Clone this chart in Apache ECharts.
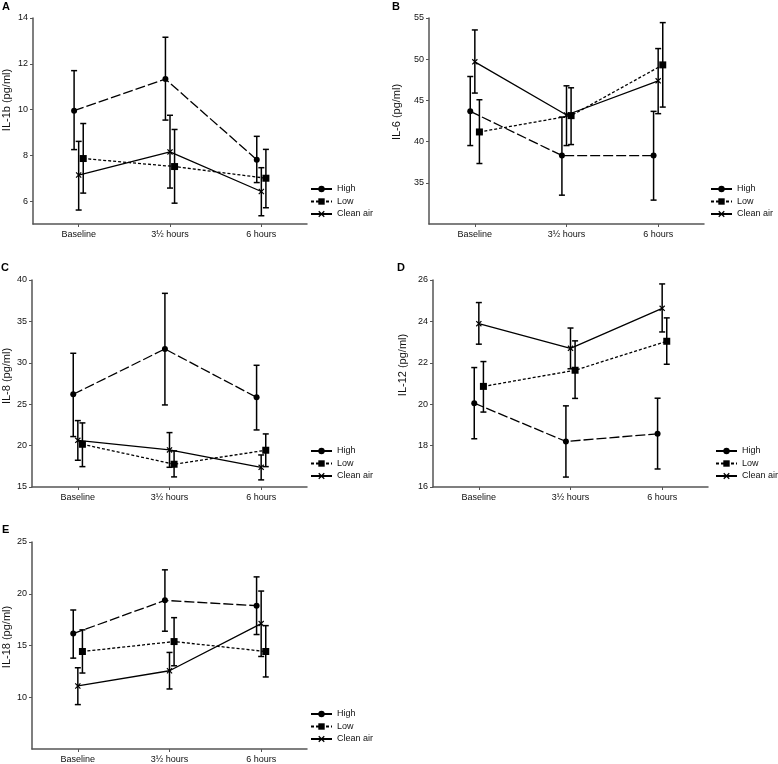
<!DOCTYPE html>
<html>
<head>
<meta charset="utf-8">
<script src="https://cdn.jsdelivr.net/npm/echarts@6/dist/echarts.min.js"></script>
<style>html,body{margin:0;padding:0;background:#fff}#c{width:778px;height:764px}</style>
</head>
<body>
<div id="c"></div>
<script>
// ---------- DATA ----------
const categories = ['Baseline', '3\u00bd hours', '6 hours'];
const groups = ['High', 'Low', 'Clean air'];

// Panel A: IL-1b
const A_ticks = [6, 8, 10, 12, 14];
const A_high = [9.95, 11.33, 7.81];  const A_high_lo = [8.25, 9.54, 6.81];  const A_high_hi = [11.70, 13.16, 8.83];
const A_low = [7.86, 7.51, 7.00];    const A_low_lo = [6.35, 5.91, 5.71];   const A_low_hi = [9.39, 9.13, 8.26];
const A_clean = [7.14, 8.15, 6.42];  const A_clean_lo = [5.61, 6.57, 5.36]; const A_clean_hi = [8.61, 9.75, 7.46];

// Panel B: IL-6
const B_ticks = [35, 40, 45, 50, 55];
const B_high = [43.67, 38.31, 38.31]; const B_high_lo = [39.52, 33.50, 32.90]; const B_high_hi = [47.90, 42.98, 43.67];
const B_low = [41.17, 43.15, 49.31];  const B_low_lo = [37.34, 39.64, 44.19];  const B_low_hi = [45.08, 46.53, 54.44];
const B_clean = [49.68, 43.23, 47.38]; const B_clean_lo = [45.89, 39.52, 43.39]; const B_clean_hi = [53.55, 46.77, 51.29];

// Panel C: IL-8
const C_ticks = [15, 20, 25, 30, 35, 40];
const C_high = [26.20, 31.67, 25.83]; const C_high_lo = [21.09, 24.91, 21.89]; const C_high_hi = [31.15, 38.39, 29.70];
const C_low = [20.16, 17.75, 19.44];  const C_low_lo = [17.46, 16.22, 17.46];  const C_low_hi = [22.74, 19.36, 21.41];
const C_clean = [20.64, 19.48, 17.38]; const C_clean_lo = [18.23, 17.38, 15.86]; const C_clean_hi = [23.02, 21.57, 18.87];

// Panel D: IL-12
const D_ticks = [16, 18, 20, 22, 24, 26];
const D_high = [20.05, 18.20, 18.57]; const D_high_lo = [18.33, 16.48, 16.87]; const D_high_hi = [21.77, 19.92, 20.29];
const D_low = [20.86, 21.64, 23.04];  const D_low_lo = [19.62, 20.28, 21.93];  const D_low_hi = [22.06, 23.06, 24.17];
const D_clean = [23.89, 22.70, 24.63]; const D_clean_lo = [22.90, 21.71, 23.49]; const D_clean_hi = [24.91, 23.68, 25.81];

// Panel E: IL-18
const E_ticks = [10, 15, 20, 25];
const E_high = [16.15, 19.36, 18.85]; const E_high_lo = [13.78, 16.38, 16.06]; const E_high_hi = [18.43, 22.31, 21.63];
const E_low = [14.42, 15.38, 14.42];  const E_low_lo = [12.34, 13.04, 11.96];  const E_low_hi = [16.51, 17.69, 16.92];
const E_clean = [11.09, 12.56, 17.12]; const E_clean_lo = [9.29, 10.80, 13.94]; const E_clean_hi = [12.85, 14.33, 20.26];

// ---------- LAYOUT / STYLE ----------
const FONT = '"Liberation Sans", Arial, sans-serif';
const panels = [
  { letter: 'A', yName: 'IL-1b (pg/ml)', ticks: A_ticks, min: 5, max: 14,
    grid: { left: 33, top: 18, width: 274, height: 206 },
    mean: [A_high, A_low, A_clean], lo: [A_high_lo, A_low_lo, A_clean_lo], hi: [A_high_hi, A_low_hi, A_clean_hi],
    legendPos: { left: 310, top: 184 }, letterPos: [2, 7], yNamePos: [7, 100] },
  { letter: 'B', yName: 'IL-6 (pg/ml)', ticks: B_ticks, min: 30, max: 55,
    grid: { left: 429, top: 18, width: 275, height: 206 },
    mean: [B_high, B_low, B_clean], lo: [B_high_lo, B_low_lo, B_clean_lo], hi: [B_high_hi, B_low_hi, B_clean_hi],
    legendPos: { left: 710, top: 184 }, letterPos: [392, 7], yNamePos: [397, 112] },
  { letter: 'C', yName: 'IL-8 (pg/ml)', ticks: C_ticks, min: 15, max: 40,
    grid: { left: 32, top: 280, width: 275, height: 207 },
    mean: [C_high, C_low, C_clean], lo: [C_high_lo, C_low_lo, C_clean_lo], hi: [C_high_hi, C_low_hi, C_clean_hi],
    legendPos: { left: 310, top: 446 }, letterPos: [1, 268], yNamePos: [7, 376] },
  { letter: 'D', yName: 'IL-12 (pg/ml)', ticks: D_ticks, min: 16, max: 26,
    grid: { left: 433, top: 280, width: 275, height: 207 },
    mean: [D_high, D_low, D_clean], lo: [D_high_lo, D_low_lo, D_clean_lo], hi: [D_high_hi, D_low_hi, D_clean_hi],
    legendPos: { left: 715, top: 446 }, letterPos: [397, 268], yNamePos: [403, 365] },
  { letter: 'E', yName: 'IL-18 (pg/ml)', ticks: E_ticks, min: 5, max: 25,
    grid: { left: 32, top: 542, width: 275, height: 208 },
    mean: [E_high, E_low, E_clean], lo: [E_high_lo, E_low_lo, E_clean_lo], hi: [E_high_hi, E_low_hi, E_clean_hi],
    legendPos: { left: 310, top: 709 }, letterPos: [2, 530], yNamePos: [7, 637] }
];

const CROSS = 'path://M0,1.4L1.4,0L5,3.6L8.6,0L10,1.4L6.4,5L10,8.6L8.6,10L5,6.4L1.4,10L0,8.6L3.6,5Z';
const groupStyle = [
  { symbol: 'circle', size: 6, dash: [10, 3], dodge: -0.05 },
  { symbol: 'rect', size: 7, dash: [3, 2], dodge: 0.05 },
  { symbol: CROSS, size: 6, dash: 'solid', dodge: 0 }
];

const grids = [], xAxes = [], yAxes = [], series = [], legends = [], graphics = [];
const axisLineStyle = { color: '#555', width: 1.5 };

panels.forEach((p, i) => {
  grids.push(Object.assign({ containLabel: false }, p.grid));
  xAxes.push({
    type: 'value', gridIndex: i, min: -0.5, max: 2.5,
    axisLine: { show: true, onZero: false, lineStyle: axisLineStyle },
    axisTick: { show: true, length: 3, customValues: [0, 1, 2], lineStyle: { color: '#555', width: 1 } },
    axisLabel: { customValues: [0, 1, 2], formatter: v => categories[Math.round(v)], fontSize: 9, color: '#111', fontFamily: FONT, margin: 6 },
    splitLine: { show: false }
  });
  yAxes.push({
    type: 'value', gridIndex: i, min: p.min, max: p.max,
    axisLine: { show: true, onZero: false, lineStyle: axisLineStyle },
    axisTick: { show: true, length: 3, customValues: p.ticks, lineStyle: { color: '#555', width: 1 } },
    axisLabel: { customValues: p.ticks, fontSize: 9, color: '#111', fontFamily: FONT, margin: 5 },
    splitLine: { show: false }
  });
  groups.forEach((g, k) => {
    const st = groupStyle[k];
    series.push({
      type: 'line', name: g, xAxisIndex: i, yAxisIndex: i,
      data: p.mean[k].map((v, j) => [j + st.dodge, v]),
      symbol: st.symbol, symbolSize: st.size, showSymbol: true,
      lineStyle: { color: '#000', width: 1.3, type: st.dash },
      itemStyle: { color: '#000' },
      z: 3, animation: false, silent: true
    });
    series.push({
      type: 'custom', xAxisIndex: i, yAxisIndex: i,
      data: p.mean[k].map((v, j) => [j + st.dodge, p.lo[k][j], p.hi[k][j]]),
      encode: { x: 0, y: [1, 2] },
      renderItem: (params, api) => {
        const x = api.value(0);
        const a = api.coord([x, api.value(1)]);
        const b = api.coord([x, api.value(2)]);
        const cap = 3;
        const style = { stroke: '#000', lineWidth: 1.5 };
        return {
          type: 'group', children: [
            { type: 'line', shape: { x1: a[0], y1: a[1], x2: b[0], y2: b[1] }, style },
            { type: 'line', shape: { x1: a[0] - cap, y1: a[1], x2: a[0] + cap, y2: a[1] }, style },
            { type: 'line', shape: { x1: b[0] - cap, y1: b[1], x2: b[0] + cap, y2: b[1] }, style }
          ]
        };
      },
      z: 2, animation: false, silent: true
    });
  });
  legends.push({
    data: groups, orient: 'vertical', left: p.legendPos.left, top: p.legendPos.top,
    itemWidth: 21, itemHeight: 8, itemGap: 2.5, padding: 0, selectedMode: false,
    textStyle: { fontSize: 9, color: '#111', fontFamily: FONT, lineHeight: 10 }
  });
  graphics.push({
    type: 'text', left: p.letterPos[0], top: p.letterPos[1] - 6,
    style: { text: p.letter, font: 'bold 11px ' + FONT, fill: '#000' }
  });
  graphics.push({
    type: 'text', x: p.yNamePos[0], y: p.yNamePos[1], rotation: Math.PI / 2,
    style: { text: p.yName, font: '11px ' + FONT, fill: '#111', align: 'center', verticalAlign: 'middle' }
  });
});

const chart = echarts.init(document.getElementById('c'), null, { renderer: 'canvas' });
chart.setOption({
  animation: false,
  backgroundColor: '#fff',
  grid: grids, xAxis: xAxes, yAxis: yAxes, series: series, legend: legends, graphic: graphics
});
</script>
</body>
</html>
